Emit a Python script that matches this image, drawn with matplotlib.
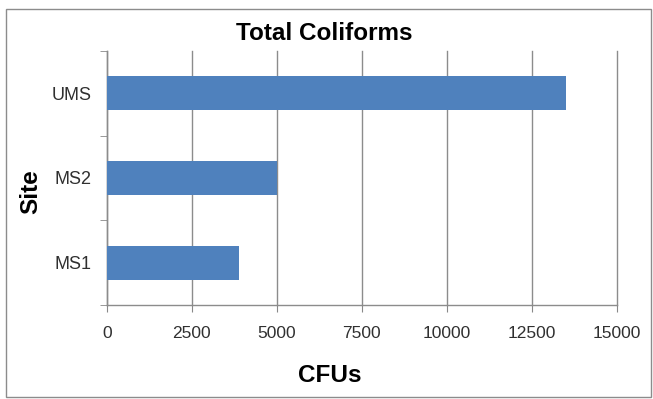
import matplotlib
matplotlib.use("Agg")
import matplotlib.pyplot as plt
from matplotlib.patches import Rectangle

sites = ["MS1", "MS2", "UMS"]
cfus = [3900, 5000, 13500]
xticks = [0, 2500, 5000, 7500, 10000, 12500, 15000]

plt.rcParams['font.family'] = ['Liberation Sans', 'DejaVu Sans']

fig = plt.figure(figsize=(6.53, 3.99), dpi=100)
ax = fig.add_axes([0.1634, 0.2356, 0.781, 0.6366])

ax.barh(range(len(sites)), cfus, height=0.4, color="#4F81BD", zorder=3)
ax.set_xlim(0, 15000)
ax.set_ylim(-0.5, len(sites) - 0.5)
ax.set_xticks(xticks)
ax.set_xticklabels([str(v) for v in xticks], fontsize=12.5, color="#303030")
ax.set_yticks(range(len(sites)))
ax.set_yticklabels(sites, fontsize=13, color="#303030")
ax.tick_params(axis='y', length=0, pad=11)
ax.set_yticks([-0.5, 0.5, 1.5, 2.5], minor=True)
ax.tick_params(axis='y', which='minor', length=5, color="#888888", direction='out')
ax.tick_params(axis='x', length=5, color="#888888", direction='out', pad=10)

ax.grid(axis='x', color="#8c8c8c", linewidth=1.0, zorder=0)
for line in ax.get_xgridlines():
    line.set_clip_on(False)
for s in ['top', 'right']:
    ax.spines[s].set_visible(False)
for s in ['left', 'bottom']:
    ax.spines[s].set_color("#8c8c8c")
    ax.spines[s].set_linewidth(1.0)

fig.text(0.496, 0.917, "Total Coliforms", ha='center', va='center', fontsize=17.5, fontweight='bold')
fig.text(0.505, 0.058, "CFUs", ha='center', va='center', fontsize=17.5, fontweight='bold')
fig.text(0.047, 0.52, "Site", ha='center', va='center', fontsize=17.5, fontweight='bold', rotation=90)

fig.patches.append(Rectangle((6/653, 1 - 397/399), (651-6)/653, (397-9)/399,
                             transform=fig.transFigure, fill=False, edgecolor="#8c8c8c", linewidth=1.0))

fig.savefig("out.png", dpi=100)
